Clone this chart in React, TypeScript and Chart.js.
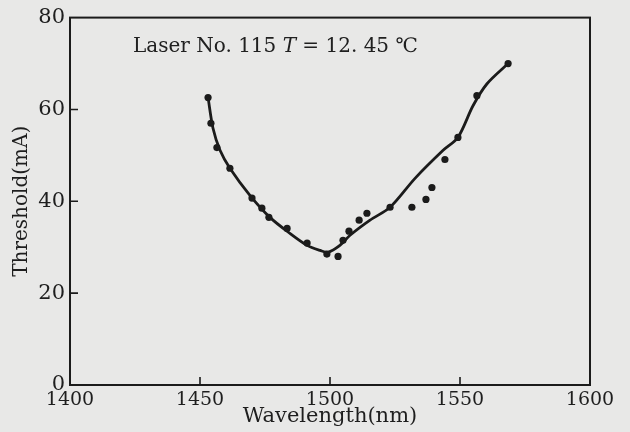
import { useEffect, useRef } from "react";
import { Chart, registerables } from "chart.js";

Chart.register(...registerables);

// Measured points (wavelength nm, threshold mA)
const measuredWavelength = [
  1453.1, 1454.2, 1456.5, 1461.5, 1470.0, 1473.8, 1476.5, 1483.5, 1491.2,
  1498.8, 1503.1, 1505.0, 1507.3, 1511.2, 1514.2, 1523.1, 1531.5, 1536.9,
  1539.2, 1544.2, 1549.2, 1556.5, 1568.5,
];
const measuredThreshold = [
  62.6, 57.0, 51.7, 47.2, 40.7, 38.5, 36.5, 34.1, 30.9, 28.5, 28.0, 31.5, 33.5,
  35.9, 37.4, 38.7, 38.7, 40.4, 43.0, 49.1, 53.9, 63.0, 70.0,
];

// Smooth fitted curve
const fitWavelength = [
  1453.1, 1455.0, 1457.7, 1461.5, 1469.2, 1476.9, 1484.6, 1491.2, 1496.2,
  1499.2, 1503.8, 1507.7, 1515.4, 1523.1, 1532.7, 1543.5, 1549.2, 1555.0,
  1560.4, 1568.5,
];
const fitThreshold = [
  62.6, 55.9, 51.1, 47.2, 41.3, 36.5, 33.0, 30.4, 29.3, 28.9, 30.4, 32.6, 35.9,
  38.7, 45.0, 51.1, 53.9, 60.8, 65.6, 70.0,
];

const xTicks = [1400, 1450, 1500, 1550, 1600];
const yTicks = [0, 20, 40, 60, 80];
const xTitle = "Wavelength(nm)";
const yTitle = "Threshold(mA)";
const annotationParts = ["Laser No. 115 ", "T", " = 12. 45 ℃"];

const INK = "#1b1b1b";
const BG = "#e8e8e7";
const FONT = "'DejaVu Serif', 'Liberation Serif', serif";

const paperPlugin = {
  id: "paper",
  beforeDraw(chart: any) {
    const { ctx, width, height } = chart;
    ctx.save();
    ctx.fillStyle = BG;
    ctx.fillRect(0, 0, width, height);
    ctx.restore();
  },
  beforeDatasetsDraw(chart: any) {
    const { ctx, chartArea } = chart;
    const { left, right, top, bottom } = chartArea;
    const xs = chart.scales.x;
    const ys = chart.scales.y;
    ctx.save();
    ctx.strokeStyle = INK;
    ctx.lineWidth = 2;
    ctx.strokeRect(left, top, right - left, bottom - top);
    ctx.lineWidth = 1.6;
    ctx.beginPath();
    for (const v of xTicks) {
      if (v === xs.min || v === xs.max) continue;
      const px = xs.getPixelForValue(v);
      ctx.moveTo(px, bottom);
      ctx.lineTo(px, bottom - 8);
    }
    for (const v of yTicks) {
      if (v === ys.min || v === ys.max) continue;
      const py = ys.getPixelForValue(v);
      ctx.moveTo(left, py);
      ctx.lineTo(left + 8, py);
    }
    ctx.stroke();
    ctx.restore();
  },
  afterDraw(chart: any) {
    const { ctx } = chart;
    ctx.save();
    ctx.fillStyle = "#202020";
    ctx.textBaseline = "alphabetic";
    let x = 133;
    const y = 52;
    annotationParts.forEach((part, i) => {
      ctx.font = (i === 1 ? "italic " : "") + "20px " + FONT;
      ctx.fillText(part, x, y);
      x += ctx.measureText(part).width;
    });
    ctx.restore();
  },
};

export default function App() {
  const canvasRef = useRef<HTMLCanvasElement | null>(null);

  useEffect(() => {
    document.body.style.margin = "0";
    const canvas = canvasRef.current;
    if (!canvas) return;
    const chart = new Chart(canvas, {
      type: "scatter",
      data: {
        datasets: [
          {
            label: "fit",
            data: fitWavelength.map((x, i) => ({ x, y: fitThreshold[i] })),
            showLine: true,
            borderColor: INK,
            borderWidth: 2.8,
            pointRadius: 0,
            tension: 0.3,
            order: 2,
          } as any,
          {
            label: "measured",
            data: measuredWavelength.map((x, i) => ({ x, y: measuredThreshold[i] })),
            showLine: false,
            pointRadius: 3.6,
            pointBackgroundColor: INK,
            pointBorderColor: INK,
            pointBorderWidth: 0,
            order: 1,
          } as any,
        ],
      },
      options: {
        animation: false,
        responsive: false,
        devicePixelRatio: 1,
        layout: { padding: { left: 0, right: 40, top: 17, bottom: 0 } },
        plugins: {
          legend: { display: false },
          tooltip: { enabled: false },
        },
        scales: {
          x: {
            type: "linear",
            min: 1400,
            max: 1600,
            afterBuildTicks: (s: any) => {
              s.ticks = xTicks.map((v) => ({ value: v }));
            },
            afterFit: (s: any) => {
              s.height = 47;
            },
            grid: { display: false, drawTicks: false },
            border: { display: false },
            ticks: {
              padding: 4,
              color: "#1e1e1e",
              font: { family: FONT, size: 19 },
              maxRotation: 0,
              autoSkip: false,
              callback: (v: any) => String(v),
            },
            title: {
              display: true,
              text: xTitle,
              color: "#1e1e1e",
              font: { family: FONT, size: 21 },
              padding: { top: 0, bottom: 3 },
            },
          },
          y: {
            type: "linear",
            min: 0,
            max: 80,
            afterBuildTicks: (s: any) => {
              s.ticks = yTicks.map((v) => ({ value: v }));
            },
            afterFit: (s: any) => {
              s.width = 70;
            },
            grid: { display: false, drawTicks: false },
            border: { display: false },
            ticks: {
              padding: 5,
              color: "#1e1e1e",
              font: { family: FONT, size: 21 },
              autoSkip: false,
              callback: (v: any) => String(v),
            },
            title: {
              display: true,
              text: yTitle,
              color: "#1e1e1e",
              font: { family: FONT, size: 20 },
              padding: { top: 10, bottom: 0 },
            },
          },
        },
      },
      plugins: [paperPlugin],
    });
    return () => chart.destroy();
  }, []);

  return (
    <div style={{ position: "fixed", left: 0, top: 0, width: 630, height: 432 }}>
      <canvas ref={canvasRef} width={630} height={432} />
    </div>
  );
}
